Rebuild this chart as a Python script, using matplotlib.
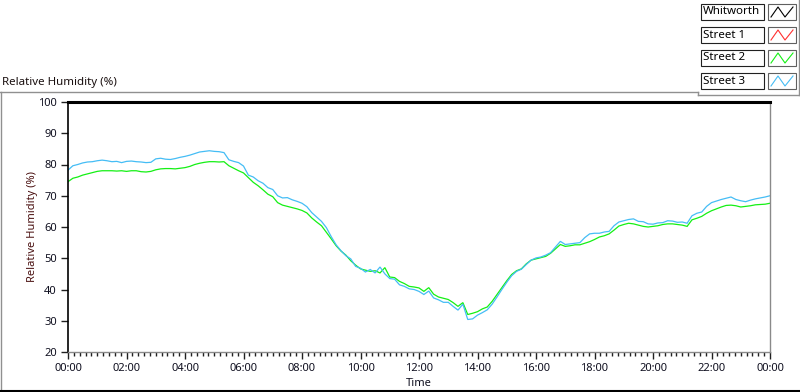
import matplotlib
matplotlib.use("Agg")
import matplotlib.pyplot as plt
from matplotlib.lines import Line2D
from matplotlib.patches import Rectangle
import numpy as np

plt.rcParams['font.family'] = ['Noto Sans', 'DejaVu Sans']

# ---------------- data (10-minute samples, 00:00 .. 24:00) ----------------
series_names = ["Whitworth", "Street 1", "Street 2", "Street 3"]
series_colors = ["#000000", "#ff3030", "#14f014", "#45bdf5"]

whitworth = []
street1 = []
street2 = [74.5, 75.6, 76.0, 76.6, 77.0, 77.4, 77.8, 78.0, 78.0, 78.0, 77.9, 78.0,
           77.8, 78.0, 78.0, 77.7, 77.6, 77.8, 78.3, 78.6, 78.7, 78.7, 78.6, 78.8,
           79.0, 79.4, 80.0, 80.4, 80.7, 80.9, 80.9, 80.8, 80.9, 79.6, 78.8, 78.0,
           77.3, 75.8, 74.3, 73.2, 71.9, 70.5, 69.7, 67.8, 67.0, 66.6, 66.2, 65.8,
           65.3, 64.5, 62.9, 61.6, 60.4, 58.3, 56.2, 54.0, 52.3, 51.0, 49.2, 47.8,
           46.6, 46.2, 45.8, 46.0, 45.3, 47.0, 44.0, 43.8, 42.6, 41.9, 41.0, 40.8,
           40.5, 39.4, 40.6, 38.5, 37.6, 37.2, 36.8, 35.8, 34.6, 35.8, 32.0, 32.4,
           32.9, 33.8, 34.4, 36.2, 38.4, 40.6, 42.8, 44.8, 46.0, 46.6, 48.2, 49.4,
           49.8, 50.2, 50.6, 51.6, 53.0, 54.4, 53.8, 54.0, 54.3, 54.3, 54.8, 55.3,
           56.0, 56.8, 57.2, 57.8, 59.0, 60.3, 60.8, 61.2, 61.0, 60.6, 60.2, 60.0,
           60.2, 60.4, 60.8, 61.0, 61.0, 60.8, 60.6, 60.2, 62.3, 62.8, 63.4, 64.4,
           65.2, 65.8, 66.4, 66.9, 67.0, 66.8, 66.4, 66.6, 66.8, 67.1, 67.2, 67.3,
           67.6]
street3 = [78.2, 79.6, 80.0, 80.5, 80.8, 80.9, 81.2, 81.4, 81.2, 80.9, 81.0, 80.6,
           81.0, 81.1, 80.9, 80.8, 80.6, 80.7, 81.8, 82.0, 81.7, 81.6, 81.9, 82.3,
           82.6, 83.0, 83.5, 84.0, 84.2, 84.4, 84.2, 84.1, 83.8, 81.5, 81.0, 80.6,
           79.5, 76.6, 76.0, 74.8, 74.0, 72.6, 72.0, 70.0, 69.3, 69.4, 68.7, 68.2,
           67.6, 66.5, 64.6, 63.2, 61.8, 59.8, 56.9, 54.3, 52.4, 50.8, 49.8, 47.4,
           46.8, 45.6, 46.4, 45.3, 47.2, 45.0, 43.5, 43.3, 41.5, 41.0, 40.2, 40.0,
           39.4, 38.4, 39.5, 37.3, 36.7, 35.9, 35.9, 34.6, 33.4, 35.3, 30.4, 30.6,
           31.8, 32.6, 33.5, 35.3, 37.6, 40.0, 42.3, 44.4, 45.8, 46.5, 48.0, 49.4,
           50.1, 50.4, 51.0, 51.8, 53.6, 55.4, 54.4, 54.6, 54.8, 55.0, 56.6, 57.8,
           58.0, 58.0, 58.4, 58.6, 60.4, 61.6, 62.0, 62.4, 62.6, 61.8, 61.7, 61.0,
           60.9, 61.3, 61.4, 62.0, 61.9, 61.5, 61.6, 61.2, 63.6, 64.4, 64.8, 66.6,
           67.8, 68.3, 68.8, 69.2, 69.6, 68.8, 68.4, 68.1, 68.6, 69.0, 69.3, 69.6,
           70.0]
series_values = [whitworth, street1, street2, street3]

x_tick_hours = [0, 2, 4, 6, 8, 10, 12, 14, 16, 18, 20, 22, 24]
x_tick_labels = ["00:00", "02:00", "04:00", "06:00", "08:00", "10:00", "12:00",
                 "14:00", "16:00", "18:00", "20:00", "22:00", "00:00"]
y_ticks = [20, 30, 40, 50, 60, 70, 80, 90, 100]

# ---------------- figure ----------------
W, H = 800, 392
fig = plt.figure(figsize=(W / 100, H / 100), dpi=100, facecolor="white")

def fx(px):
    return px / W

def fy(py):
    return 1 - py / H

AX_L, AX_R, AX_T, AX_B = 68, 770, 102, 352
ax = fig.add_axes([fx(AX_L), fy(AX_B), fx(AX_R) - fx(AX_L), fy(AX_T) - fy(AX_B)])
ax.set_facecolor("white")

for vals, col in zip(series_values, series_colors):
    if len(vals) == 0:
        continue
    t = np.arange(len(vals)) * (10.0 / 60.0)
    ax.plot(t, vals, color=col, lw=0.9, solid_joinstyle="miter")

ax.set_xlim(0, 24)
ax.set_ylim(20, 100)
ax.set_xticks(x_tick_hours)
ax.set_xticklabels(x_tick_labels)
ax.set_xticks(np.arange(0, 24.01, 0.2), minor=True)
ax.set_yticks(y_ticks)
ax.tick_params(axis="x", which="major", length=5, width=1, color="#202020",
               labelsize=8, labelcolor="#101020", pad=3)
ax.tick_params(axis="x", which="minor", length=3, width=1, color="#202020")
ax.tick_params(axis="y", which="major", length=5, width=1, color="#202020",
               labelsize=8, labelcolor="#101020", pad=3)
ax.tick_params(axis="y", which="minor", length=0)

ax.spines["top"].set_color("black")
ax.spines["top"].set_linewidth(2.2)
ax.spines["left"].set_color("black")
ax.spines["left"].set_linewidth(1.2)
ax.spines["right"].set_color("#8a8a8a")
ax.spines["right"].set_linewidth(1.0)
ax.spines["bottom"].set_color("#8a8a8a")
ax.spines["bottom"].set_linewidth(1.0)

ax.set_xlabel("Time", fontsize=8, color="#101020", labelpad=3)
ax.set_ylabel("Relative Humidity (%)", fontsize=8, color="#4a1010")
ax.yaxis.set_label_coords((38 - AX_L) / (AX_R - AX_L), 0.5)

# ---------------- outer frame ----------------
def fline(x0, y0, x1, y1, color, lw):
    fig.add_artist(Line2D([fx(x0), fx(x1)], [fy(y0), fy(y1)], color=color,
                          lw=lw, transform=fig.transFigure))

fig.text(fx(2), fy(82), "Relative Humidity (%)", fontsize=8.3, color="#1a1010",
         ha="left", va="center")
fline(0, 92, 698, 92, "#909090", 1.0)
fline(698, 92, 698, 95, "#909090", 1.0)
fline(698, 95, 799, 95, "#909090", 1.0)
fline(799, 0, 799, 95, "#909090", 1.0)
fline(0.5, 92, 0.5, 390, "#909090", 1.0)
fline(0, 390.5, 800, 390.5, "black", 1.5)

# ---------------- legend ----------------
row_top = [4, 27, 50, 73]
for name, col, yt in zip(series_names, series_colors, row_top):
    fig.add_artist(Rectangle((fx(701), fy(yt + 16)), fx(764) - fx(701),
                             fy(yt) - fy(yt + 16), facecolor="white",
                             edgecolor="#202020", lw=0.8,
                             transform=fig.transFigure))
    fig.text(fx(703), fy(yt + 8), name, fontsize=8.3, color="black",
             ha="left", va="center")
    fig.add_artist(Rectangle((fx(768), fy(yt + 16)), fx(796) - fx(768),
                             fy(yt) - fy(yt + 16), facecolor="white",
                             edgecolor="#606060", lw=0.8,
                             transform=fig.transFigure))
    xs = [771, 778, 785, 793]
    ys = [yt + 13, yt + 3, yt + 13, yt + 3]
    fig.add_artist(Line2D([fx(v) for v in xs], [fy(v) for v in ys], color=col,
                          lw=0.8, transform=fig.transFigure))

fig.savefig("out.png", dpi=100, facecolor="white")
